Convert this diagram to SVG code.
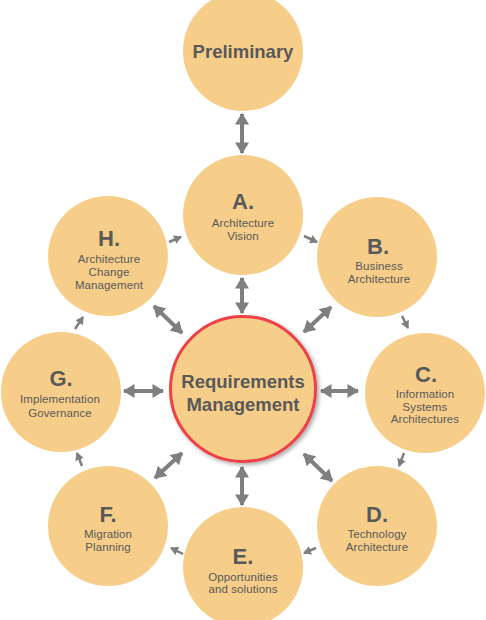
<svg xmlns="http://www.w3.org/2000/svg" width="486" height="620" viewBox="0 0 486 620">
<style>
.c{fill:#F6CE8A}
.big{font-family:"Liberation Sans",Arial,sans-serif;font-weight:bold;fill:#595959;text-anchor:middle}
.let{font-family:"Liberation Sans",Arial,sans-serif;font-weight:bold;font-size:22px;fill:#595959;text-anchor:middle}
.lab{font-family:"Liberation Sans",Arial,sans-serif;font-size:11.5px;letter-spacing:0.1px;fill:#595959;text-anchor:middle}
.da{stroke:#7F7F7F;stroke-width:4;fill:none;marker-start:url(#h);marker-end:url(#h)}
.sa{stroke:#7F7F7F;stroke-width:2.5;fill:none;marker-end:url(#s)}
</style>
<defs>
<marker id="h" markerUnits="userSpaceOnUse" markerWidth="12" markerHeight="14" refX="9" refY="6" orient="auto-start-reverse" viewBox="0 0 10 12">
<path d="M0,0 L10,6 L0,12 z" fill="#7F7F7F"/>
</marker>
<marker id="s" markerUnits="userSpaceOnUse" markerWidth="8" markerHeight="9" refX="7" refY="4.5" orient="auto" viewBox="0 0 8 9">
<path d="M0,0 L8,4.5 L0,9 z" fill="#7F7F7F"/>
</marker>
<filter id="sh" x="-20%" y="-20%" width="140%" height="140%">
<feDropShadow dx="2" dy="2" stdDeviation="2" flood-color="#000" flood-opacity="0.35"/>
</filter>
</defs>
<g id="connectors">
<line class="da" x1="242" y1="114" x2="242" y2="153"/>
<line class="da" x1="242" y1="278" x2="242" y2="313"/>
<line class="da" x1="242" y1="467" x2="242" y2="505"/>
<line class="da" x1="124" y1="391" x2="163" y2="391"/>
<line class="da" x1="321" y1="391" x2="358" y2="391"/>
<line class="da" x1="304" y1="332" x2="331" y2="307"/>
<line class="da" x1="154" y1="306" x2="182" y2="333"/>
<line class="da" x1="155" y1="478" x2="182" y2="453"/>
<line class="da" x1="304" y1="454" x2="332" y2="481"/>
<line class="sa" x1="304" y1="236" x2="317" y2="242"/>
<line class="sa" x1="402" y1="316" x2="408" y2="328"/>
<line class="sa" x1="404" y1="453" x2="399" y2="466"/>
<line class="sa" x1="316" y1="548" x2="304" y2="553"/>
<line class="sa" x1="183" y1="554" x2="171" y2="548"/>
<line class="sa" x1="82" y1="466" x2="77" y2="453"/>
<line class="sa" x1="75" y1="329" x2="83" y2="317"/>
<line class="sa" x1="169" y1="242" x2="181" y2="237"/>
</g>
<g id="preliminary">
<circle class="c" cx="243" cy="51" r="60"/>
<text class="big" x="243" y="58" font-size="18.5">Preliminary</text>
</g>
<g id="A">
<circle class="c" cx="243" cy="215" r="60"/>
<text class="let" x="243" y="209">A.</text>
<text class="lab" x="243" y="227">Architecture</text>
<text class="lab" x="243" y="240">Vision</text>
</g>
<g id="B">
<circle class="c" cx="377" cy="257" r="60"/>
<text class="let" x="378" y="254">B.</text>
<text class="lab" x="379" y="270">Business</text>
<text class="lab" x="379" y="283">Architecture</text>
</g>
<g id="C">
<circle class="c" cx="425" cy="393" r="60"/>
<text class="let" x="426" y="382">C.</text>
<text class="lab" x="425" y="398">Information</text>
<text class="lab" x="425" y="411">Systems</text>
<text class="lab" x="425" y="423">Architectures</text>
</g>
<g id="D">
<circle class="c" cx="377" cy="526" r="60"/>
<text class="let" x="377" y="522">D.</text>
<text class="lab" x="377" y="538">Technology</text>
<text class="lab" x="377" y="551">Architecture</text>
</g>
<g id="E">
<circle class="c" cx="243" cy="567" r="60"/>
<text class="let" x="243" y="564">E.</text>
<text class="lab" x="243" y="581">Opportunities</text>
<text class="lab" x="243" y="593">and solutions</text>
</g>
<g id="F">
<circle class="c" cx="108" cy="526" r="60"/>
<text class="let" x="108" y="522">F.</text>
<text class="lab" x="108" y="538">Migration</text>
<text class="lab" x="108" y="551">Planning</text>
</g>
<g id="G">
<circle class="c" cx="61" cy="392" r="60"/>
<text class="let" x="61" y="386">G.</text>
<text class="lab" x="60" y="403">Implementation</text>
<text class="lab" x="60" y="417">Governance</text>
</g>
<g id="H">
<circle class="c" cx="108" cy="256" r="60"/>
<text class="let" x="109" y="246">H.</text>
<text class="lab" x="109" y="263">Architecture</text>
<text class="lab" x="109" y="276">Change</text>
<text class="lab" x="109" y="289">Management</text>
</g>
<g id="requirements">
<circle cx="243" cy="389" r="72.5" fill="#F6CE8A" stroke="#EE4146" stroke-width="3" filter="url(#sh)"/>
<text class="big" x="243" y="388" font-size="18.5">Requirements</text>
<text class="big" x="243" y="411" font-size="18.5">Management</text>
</g>
</svg>
